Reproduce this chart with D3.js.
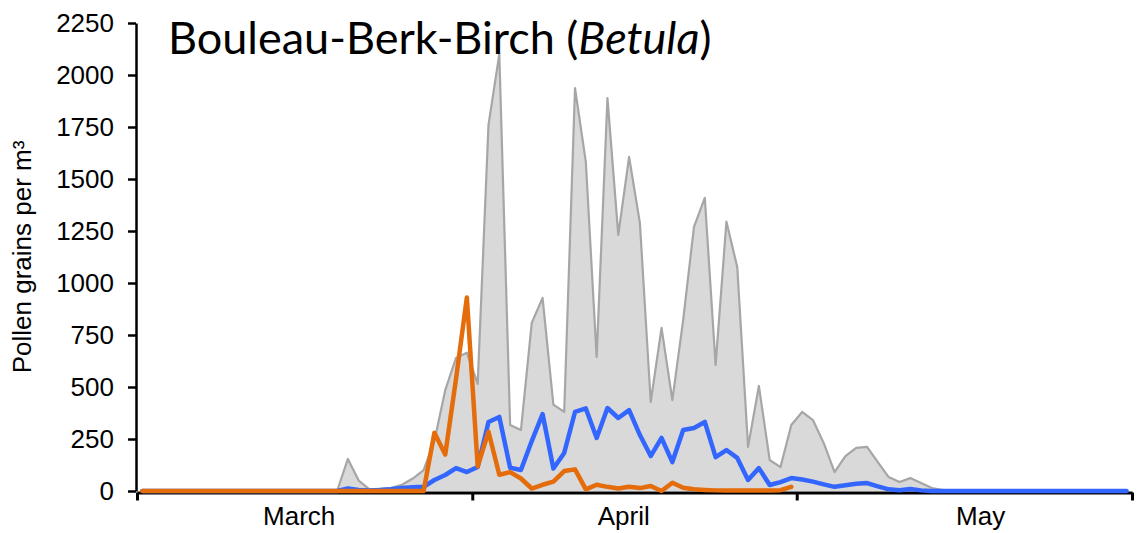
<!DOCTYPE html>
<html>
<head>
<meta charset="utf-8">
<script src="https://cdn.jsdelivr.net/npm/d3@7"></script>
<style>
  body { margin: 0; background: #fff; }
  svg { display: block; }
</style>
</head>
<body>
<svg width="1139" height="533"></svg>
<script>

// daily values, 1 March .. 31 May
const maxValues = [
  0, 0, 0, 0, 0, 0, 0, 0, 0, 0, 0, 0, 0, 0, 0, 0, 0, 0, 0,
  154, 50, 8, 10, 15, 30, 60, 100, 240, 485, 640, 665, 515, 1760, 2100,
  317, 293, 808, 928, 415, 380, 1937, 1582, 644, 1889, 1231, 1606, 1288,
  428, 784, 437, 822, 1270, 1409, 606, 1295, 1077, 212, 505, 149, 115,
  317, 380, 341, 230, 91, 168, 207, 212, 139, 67, 43, 62, 38, 14, 5,
  0, 0, 0, 0, 0, 0, 0, 0, 0, 0, 0, 0, 0, 0, 0, 0, 0
];

const meanValues = [
  0, 0, 0, 0, 0, 0, 0, 0, 0, 0, 0, 0, 0, 0, 0, 0, 0, 0, 0,
  12, 5, 3, 5, 8, 15, 18, 20, 53, 77, 110, 91, 115, 332, 356,
  112, 101, 240, 370, 108, 183, 380, 397, 255, 399, 351, 389, 269,
  168, 255, 139, 293, 303, 332, 163, 197, 159, 53, 110, 29, 43,
  62, 55, 45, 32, 20, 28, 35, 38, 22, 8, 4, 10, 3,
  0, 0, 0, 0, 0, 0, 0, 0, 0, 0, 0, 0, 0, 0, 0, 0, 0, 0, 0
];

// current season, up to 30 April
const yearValues = [
  0, 0, 0, 0, 0, 0, 0, 0, 0, 0, 0, 0, 0, 0, 0, 0, 0, 0, 0, 0, 0, 0, 0, 0, 0, 0, 0,
  280, 175, 540, 930, 118, 285, 78, 91, 60, 12, 30, 45, 96, 104,
  8, 30, 20, 12, 20, 14, 24, 0, 40, 16, 8, 5, 3, 2, 2, 2, 2, 2, 4, 20
];

const yTicks = [0, 250, 500, 750, 1000, 1250, 1500, 1750, 2000, 2250];
const monthNames = ['March', 'April', 'May'];

const YEAR = 2019;
const day = i => new Date(YEAR, 2, 1 + i, 12);
const monthStarts = [2, 3, 4, 5].map(m => new Date(YEAR, m, 1));
const labelDates = [new Date(YEAR, 2, 16), new Date(YEAR, 3, 15), new Date(YEAR, 4, 18)];

const margin = {top: 23, right: 7, bottom: 42, left: 137};
const W = 1139, H = 533;
const FONT = '"Liberation Sans", Arial, sans-serif';

const svg = d3.select('svg');

const x = d3.scaleTime()
    .domain([monthStarts[0], monthStarts[3]])
    .range([margin.left, W - margin.right]);

const y = d3.scaleLinear()
    .domain([0, 2250])
    .range([H - margin.bottom, margin.top]);

//-------------AREA (max)-----------------------------------
const area = d3.area()
    .x((d, i) => x(day(i)))
    .y0(y(0))
    .y1(d => y(d));

svg.append('path')
    .datum(maxValues)
    .attr('fill', '#d9d9d9')
    .attr('d', area);

svg.append('path')
    .datum(maxValues)
    .attr('fill', 'none')
    .attr('stroke', '#a6a6a6')
    .attr('stroke-width', 2.2)
    .attr('stroke-linejoin', 'round')
    .attr('d', d3.line().x((d, i) => x(day(i))).y(d => y(d)));

//-------------AXES-----------------------------------------
const axisY = svg.append('g')
    .attr('transform', `translate(${margin.left - 1},0)`)
    .call(d3.axisLeft(y).tickValues(yTicks).tickFormat(d3.format('d'))
      .tickSize(8).tickSizeOuter(0).tickPadding(14));
axisY.select('.domain').attr('stroke', '#000').attr('stroke-width', 2.5);
axisY.selectAll('.tick line').attr('stroke', '#000').attr('stroke-width', 2.5);
axisY.selectAll('.tick text')
    .attr('fill', '#000')
    .style('font-family', FONT)
    .style('font-size', '26px');

const axisX = svg.append('g')
    .attr('transform', `translate(0,${y(0) + 1.5})`)
    .call(d3.axisBottom(x).tickValues(monthStarts).tickFormat('').tickSize(8).tickSizeOuter(0));
axisX.select('.domain').attr('stroke', '#000').attr('stroke-width', 3);
axisX.selectAll('.tick line').attr('stroke', '#000').attr('stroke-width', 3);

svg.append('g').selectAll('text')
    .data(monthNames)
    .enter().append('text')
    .attr('x', (d, i) => x(labelDates[i]))
    .attr('y', H - 8)
    .attr('text-anchor', 'middle')
    .style('font-family', FONT)
    .style('font-size', '26px')
    .text(d => d);

//-------------LINES----------------------------------------
const line = d3.line()
    .x((d, i) => x(day(i)))
    .y(d => y(d));

svg.append('path')
    .datum(meanValues)
    .attr('fill', 'none')
    .attr('stroke', '#3366ff')
    .attr('stroke-width', 4.5)
    .attr('stroke-linejoin', 'round')
    .attr('stroke-linecap', 'round')
    .attr('d', line);

svg.append('path')
    .datum(yearValues)
    .attr('fill', 'none')
    .attr('stroke', '#e46c0a')
    .attr('stroke-width', 4.5)
    .attr('stroke-linejoin', 'round')
    .attr('stroke-linecap', 'round')
    .attr('d', line);

//-------------TEXT-----------------------------------------
svg.append('text')
    .attr('transform', `translate(31,${(y(0) + y(2250)) / 2}) rotate(-90)`)
    .attr('text-anchor', 'middle')
    .style('font-family', FONT)
    .style('font-size', '26px')
    .text('Pollen grains per m³');

const title = svg.append('text')
    .attr('x', 168)
    .attr('y', 54)
    .style('font-family', 'Lato, "Open Sans", sans-serif')
    .style('font-size', '40px');
title.append('tspan').text('Bouleau-Berk-Birch (');
title.append('tspan').style('font-style', 'italic').text('Betula');
title.append('tspan').text(')');

// fit title width to the original (~544px)
const tw = title.node().getComputedTextLength();
title.style('font-size', (40 * 544 / tw).toFixed(1) + 'px');

</script>
</body>
</html>
